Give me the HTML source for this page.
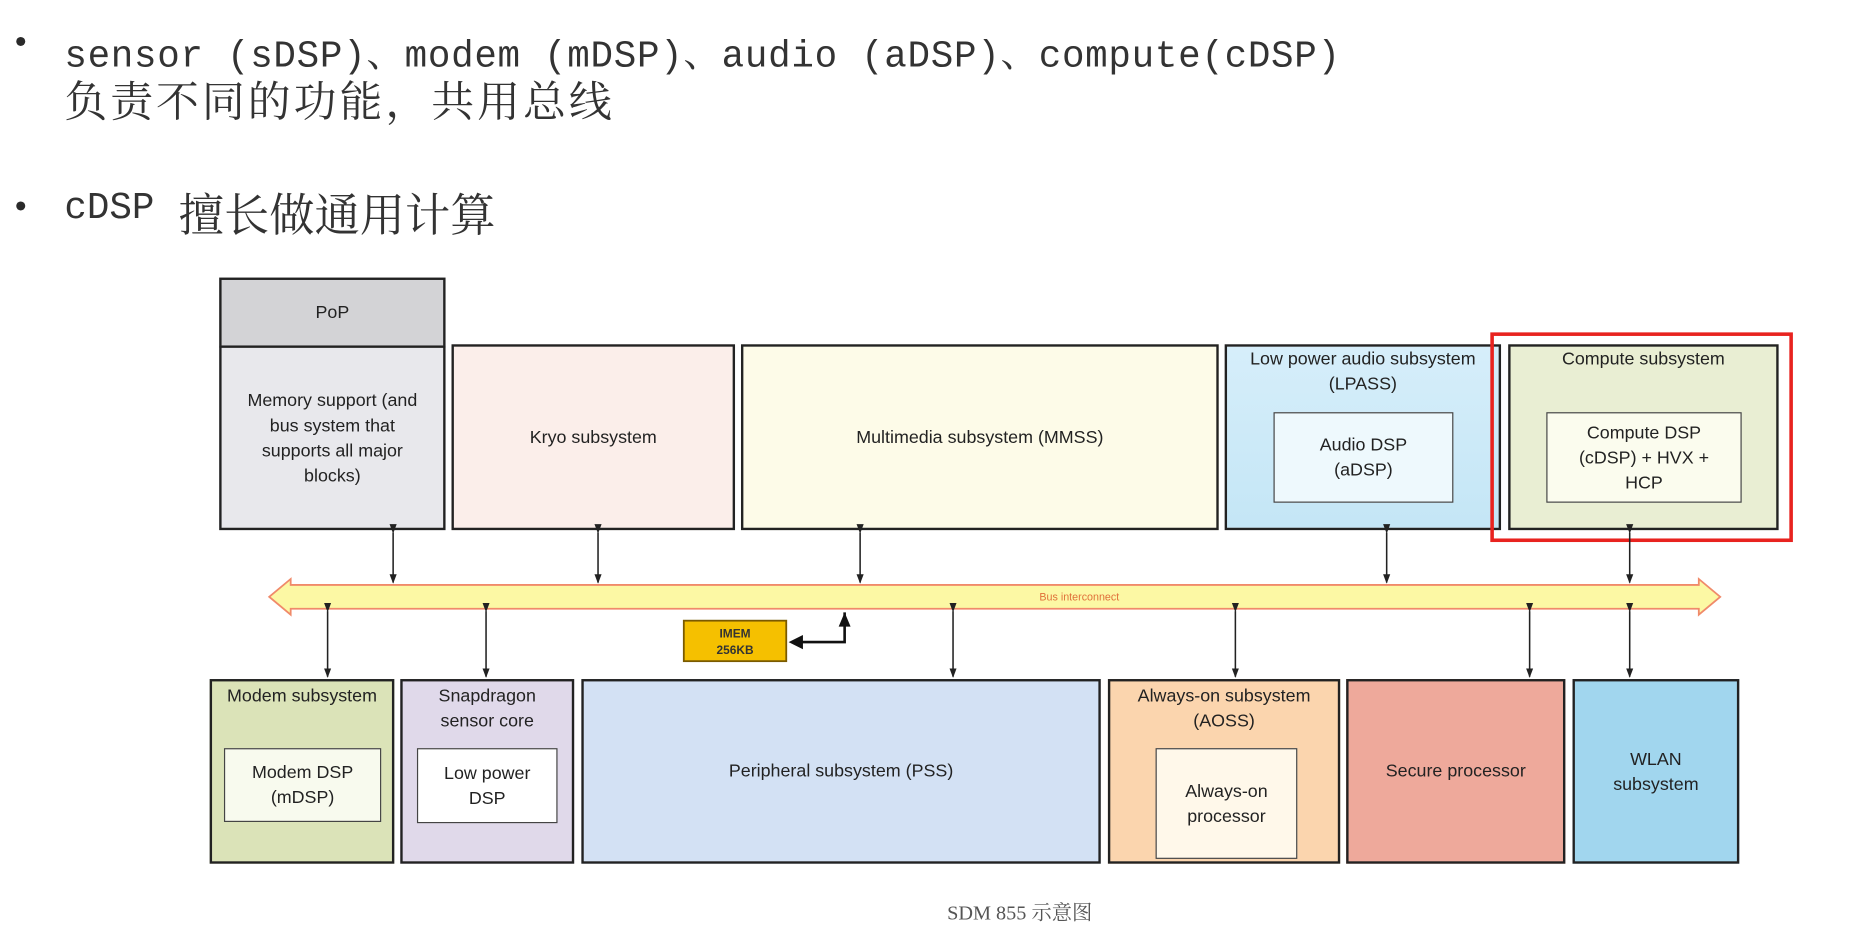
<!DOCTYPE html>
<html><head><meta charset="utf-8">
<style>
html,body{margin:0;padding:0;background:#fff;}
body{width:1868px;height:924px;overflow:hidden;position:relative;}
#s{position:absolute;left:0;top:0;width:1568px;height:776px;transform:scale(1.1913);transform-origin:0 0;}
.t{position:absolute;white-space:nowrap;color:#2a2a2a;font-family:"Liberation Mono","Noto Serif CJK SC",monospace;}
.b{position:absolute;box-sizing:border-box;border:2px solid #222;font-family:"Liberation Sans",sans-serif;font-size:15px;color:#222;text-align:center;line-height:21px;}
.c{position:absolute;left:0;right:0;}
.in{position:absolute;box-sizing:border-box;border:1.5px solid #444;display:flex;align-items:center;justify-content:center;text-align:center;font-family:"Liberation Sans",sans-serif;font-size:15px;color:#222;line-height:21px;}
.ctr{display:flex;align-items:center;justify-content:center;}
</style></head><body>
<div id="s">
<div class="t" style="left:9px;top:22px;font-size:28px;">•</div>
<div class="t" style="left:54px;top:21px;font-size:31.5px;letter-spacing:0.6px;color:#333;">sensor (sDSP)、modem (mDSP)、audio (aDSP)、compute(cDSP)</div>
<div class="t" style="left:54px;top:58px;font-size:36px;font-family:'Noto Serif CJK SC',serif;letter-spacing:2.5px;color:#333;">负责不同的功能，共用总线</div>
<div class="t" style="left:9px;top:160px;font-size:28px;">•</div>
<div class="t" style="left:54px;top:158px;font-size:31.5px;color:#333;">cDSP</div>
<div class="t" style="left:150px;top:150px;font-size:38px;font-family:'Noto Serif CJK SC',serif;letter-spacing:0px;color:#333;">擅长做通用计算</div>

<!-- top row -->
<div class="b ctr" style="left:184px;top:233px;width:190px;height:59px;background:#d3d3d6;">PoP</div>
<div class="b ctr" style="left:184px;top:290px;width:190px;height:155px;background:#e8e8ec;">Memory support (and<br>bus system that<br>supports all major<br>blocks)</div>
<div class="b ctr" style="left:379px;top:289px;width:238px;height:156px;background:#fbeeea;">Kryo subsystem</div>
<div class="b ctr" style="left:622px;top:289px;width:401px;height:156px;background:#fdfbe8;">Multimedia subsystem (MMSS)</div>
<div class="b" style="left:1028px;top:289px;width:232px;height:156px;background:linear-gradient(#d6eefa,#c4e6f6);"><div class="c" style="top:0px;">Low power audio subsystem<br>(LPASS)</div></div>
<div class="in" style="left:1069px;top:346px;width:151px;height:76px;background:#eef9fd;">Audio DSP<br>(aDSP)</div>
<div class="b" style="left:1266px;top:289px;width:227px;height:156px;background:#e9eed3;"><div class="c" style="top:0px;">Compute subsystem</div></div>
<div class="in" style="left:1298px;top:346px;width:164px;height:76px;background:#fbfcee;">Compute DSP<br>(cDSP) + HVX +<br>HCP</div>
<div style="position:absolute;left:1251px;top:279px;width:254px;height:176px;box-sizing:border-box;border:3px solid #e8231f;"></div>

<!-- bottom row -->
<div class="b" style="left:176px;top:570px;width:155px;height:155px;background:#dbe3b8;"><div class="c" style="top:2px;">Modem subsystem</div></div>
<div class="in" style="left:188px;top:628px;width:132px;height:62px;background:#f8faee;">Modem DSP<br>(mDSP)</div>
<div class="b" style="left:336px;top:570px;width:146px;height:155px;background:#e0d9ea;"><div class="c" style="top:2px;">Snapdragon<br>sensor core</div></div>
<div class="in" style="left:350px;top:628px;width:118px;height:63px;background:#fff;">Low power<br>DSP</div>
<div class="b ctr" style="left:488px;top:570px;width:436px;height:155px;background:#d3e1f4;">Peripheral subsystem (PSS)</div>
<div class="b" style="left:930px;top:570px;width:195px;height:155px;background:#fbd5ae;"><div class="c" style="top:2px;">Always-on subsystem<br>(AOSS)</div></div>
<div class="in" style="left:970px;top:628px;width:119px;height:93px;background:#fff8ea;">Always-on<br>processor</div>
<div class="b ctr" style="left:1130px;top:570px;width:184px;height:155px;background:#eea99b;">Secure processor</div>
<div class="b ctr" style="left:1320px;top:570px;width:140px;height:155px;background:#a1d6ee;">WLAN<br>subsystem</div>

<svg style="position:absolute;left:0;top:0" width="1568" height="776">
<defs><marker id="a" markerWidth="8" markerHeight="8" refX="7" refY="4" orient="auto" markerUnits="userSpaceOnUse"><path d="M0,1 L8,4 L0,7 z" fill="#222"/></marker></defs>
<polygon points="226,501 244,486 244,491 1426,491 1426,486 1444,501 1426,516 1426,511 244,511 244,516" fill="#fcf8a4" stroke="#f08a6a" stroke-width="1.5"/>
<text x="906" y="504" font-family="Liberation Sans,sans-serif" font-size="9" fill="#e0703a" text-anchor="middle">Bus interconnect</text>
<g stroke="#222" stroke-width="1.3" marker-start="url(#a)" marker-end="url(#a)">
<line x1="330" y1="447" x2="330" y2="489"/>
<line x1="502" y1="447" x2="502" y2="489"/>
<line x1="722" y1="447" x2="722" y2="489"/>
<line x1="1164" y1="447" x2="1164" y2="489"/>
<line x1="1368" y1="447" x2="1368" y2="489"/>
<line x1="275" y1="513" x2="275" y2="568"/>
<line x1="408" y1="513" x2="408" y2="568"/>
<line x1="800" y1="513" x2="800" y2="568"/>
<line x1="1037" y1="513" x2="1037" y2="568"/>
<line x1="1284" y1="513" x2="1284" y2="568"/>
<line x1="1368" y1="513" x2="1368" y2="568"/>
</g>
<rect x="574" y="521" width="86" height="34" fill="#f5c000" stroke="#7a5a00" stroke-width="1.5"/>
<text x="617" y="535" font-family="Liberation Sans,sans-serif" font-size="10" font-weight="bold" fill="#333" text-anchor="middle">IMEM</text>
<text x="617" y="549" font-family="Liberation Sans,sans-serif" font-size="10" font-weight="bold" fill="#333" text-anchor="middle">256KB</text>
<path d="M709,514 L709,539 L672,539" fill="none" stroke="#111" stroke-width="2.2"/>
<path d="M704,526 L709,514 L714,526 z" fill="#111"/>
<path d="M674,533 L662,539 L674,545 z" fill="#111"/>
</svg>
<div class="t" style="left:795px;top:752px;font-size:17px;color:#555;font-family:'Liberation Serif','Noto Serif CJK SC',serif;">SDM 855 示意图</div>
</div>
</body></html>
